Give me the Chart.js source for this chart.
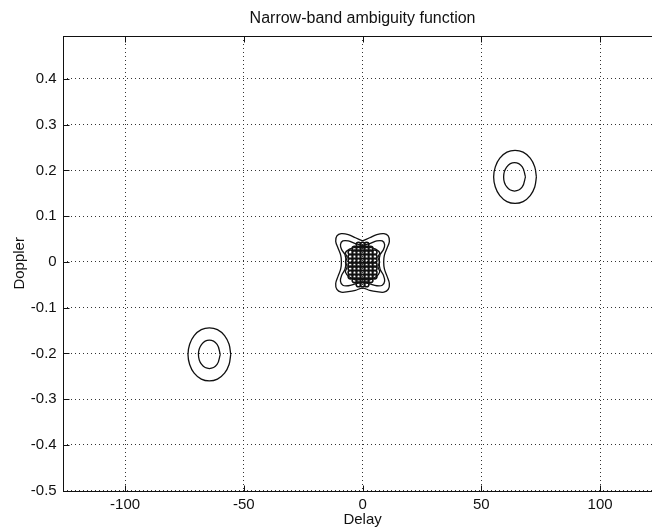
<!DOCTYPE html>
<html>
<head>
<meta charset="utf-8">
<title>Narrow-band ambiguity function</title>
<script src="https://cdn.jsdelivr.net/npm/chart.js@4/dist/chart.umd.min.js"></script>
<style>
  html, body { margin: 0; padding: 0; background: #fff; overflow: hidden; }
  #wrap { position: relative; width: 680px; height: 529px; }
</style>
</head>
<body>
<div id="wrap"><canvas id="amb"></canvas></div>
<script>
// Axis ranges and tick values
const delayRange = [-126, 126];
const dopplerRange = [-0.5, 0.494];
const delayTicks = [-100, -50, 0, 50, 100];
const dopplerTicks = [-0.5, -0.4, -0.3, -0.2, -0.1, 0, 0.1, 0.2, 0.3, 0.4];

// Contour lines of |A(delay, doppler)|, as [delay, doppler] vertices
const centerOuter = [
  [0, 0.046], [-3, 0.053], [-6, 0.060], [-9, 0.062], [-10.8, 0.057], [-11.3, 0.045],
  [-10.3, 0.030], [-9.2, 0.015], [-8.9, 0], [-9.2, -0.015], [-10.3, -0.031], [-11.3, -0.047],
  [-10.8, -0.060], [-9, -0.066], [-6, -0.065], [-3, -0.062], [0, -0.057],
  [3, -0.062], [6, -0.065], [9, -0.066], [10.8, -0.060], [11.3, -0.047], [10.3, -0.031],
  [9.2, -0.015], [8.9, 0], [9.2, 0.015], [10.3, 0.030], [11.3, 0.045], [10.8, 0.057],
  [9, 0.062], [6, 0.060], [3, 0.053], [0, 0.046]
];
const centerMiddle = [
  [0, 0.036], [-3, 0.040], [-6, 0.046], [-8.3, 0.046], [-9.3, 0.038], [-8.8, 0.027],
  [-7.4, 0.016], [-7, 0], [-7.4, -0.016], [-8.8, -0.029], [-9.3, -0.042], [-8.3, -0.051],
  [-6, -0.052], [-3, -0.048], [0, -0.044],
  [3, -0.048], [6, -0.052], [8.3, -0.051], [9.3, -0.042], [8.8, -0.029], [7.4, -0.016],
  [7, 0], [7.4, 0.016], [8.8, 0.027], [9.3, 0.038], [8.3, 0.046], [6, 0.046], [3, 0.040], [0, 0.036]
];
const centerInner = [
  [0, 0.031], [-3, 0.032], [-5.5, 0.028], [-7.2, 0.020], [-6.5, 0.010], [-7.2, 0],
  [-6.5, -0.010], [-7.2, -0.022], [-5.5, -0.033], [-3, -0.039], [0, -0.038],
  [3, -0.039], [5.5, -0.033], [7.2, -0.022], [6.5, -0.010], [7.2, 0], [6.5, 0.010],
  [7.2, 0.020], [5.5, 0.028], [3, 0.032], [0, 0.031]
];
const upperSideOuter = [
  [73.2, 0.186], [72.5, 0.208], [70.6, 0.227], [67.6, 0.240], [64.2, 0.244], [60.8, 0.240],
  [57.8, 0.227], [55.9, 0.208], [55.2, 0.186], [55.9, 0.164], [57.8, 0.145], [60.8, 0.132],
  [64.2, 0.128], [67.6, 0.132], [70.6, 0.145], [72.5, 0.164], [73.2, 0.186]
];
const upperSideInner = [
  [68.6, 0.186], [67.25, 0.208], [64, 0.217], [60.75, 0.208], [59.4, 0.186],
  [60.75, 0.164], [64, 0.155], [67.25, 0.164], [68.6, 0.186]
];
const lowerSideOuter = [
  [-55.5, -0.202], [-56.2, -0.180], [-58.1, -0.161], [-61.1, -0.148], [-64.5, -0.144],
  [-67.9, -0.148], [-70.9, -0.161], [-72.8, -0.180], [-73.5, -0.202], [-72.8, -0.224],
  [-70.9, -0.243], [-67.9, -0.256], [-64.5, -0.260], [-61.1, -0.256], [-58.1, -0.243],
  [-56.2, -0.224], [-55.5, -0.202]
];
const lowerSideInner = [
  [-59.9, -0.202], [-61.25, -0.180], [-64.5, -0.171], [-67.75, -0.180], [-69.1, -0.202],
  [-67.75, -0.224], [-64.5, -0.233], [-61.25, -0.224], [-59.9, -0.202]
];

// Tightly packed high-level contours around the main peak: one column per delay
const coreDelays  = [-5.1, -3.4, -1.7, 0, 1.7, 3.4, 5.1];
const coreTop     = [0.021, 0.029, 0.038, 0.038, 0.038, 0.029, 0.021];
const coreBottom  = [-0.032, -0.040, -0.049, -0.049, -0.049, -0.040, -0.032];
const coreDopplers = [0.038, 0.029, 0.021, 0.012, 0.003, -0.006, -0.014, -0.023, -0.032, -0.040, -0.049];

const INK = '#111';
const FONT = { family: "'Liberation Sans', Arial, sans-serif", size: 15 };

function contour(points, tension) {
  return {
    data: points.map(p => ({ x: p[0], y: p[1] })),
    showLine: true,
    borderColor: INK,
    borderWidth: 1.3,
    pointRadius: 0,
    pointHoverRadius: 0,
    fill: false,
    tension: tension
  };
}

const corePoints = [];
coreDelays.forEach((d, i) => {
  coreDopplers.forEach(v => {
    if (v <= coreTop[i] + 1e-9 && v >= coreBottom[i] - 1e-9) corePoints.push({ x: d, y: v });
  });
});

// Axes box with inward tick marks
const framePlugin = {
  id: 'frame',
  afterDraw(chart) {
    const { ctx, chartArea: a, scales: { x, y } } = chart;
    const L = Math.round(a.left) + 0.5, R = Math.round(a.right) + 0.5;
    const T = Math.round(a.top) + 0.5, B = Math.round(a.bottom) + 0.5;
    ctx.save();
    ctx.strokeStyle = INK;
    ctx.lineWidth = 1;
    ctx.setLineDash([]);
    ctx.strokeRect(L, T, R - L, B - T);
    ctx.beginPath();
    x.ticks.forEach(t => {
      const px = Math.round(x.getPixelForValue(t.value)) + 0.5;
      ctx.moveTo(px, B); ctx.lineTo(px, B - 6);
      ctx.moveTo(px, T); ctx.lineTo(px, T + 6);
    });
    y.ticks.forEach(t => {
      const py = Math.round(y.getPixelForValue(t.value)) + 0.5;
      ctx.moveTo(L, py); ctx.lineTo(L + 6, py);
      ctx.moveTo(R, py); ctx.lineTo(R - 6, py);
    });
    ctx.stroke();
    ctx.restore();
  }
};

new Chart(document.getElementById('amb'), {
  type: 'scatter',
  data: {
    datasets: [
      contour(centerOuter, 0.35),
      contour(centerMiddle, 0.35),
      contour(centerInner, 0.35),
      contour(upperSideOuter, 0.34),
      contour(upperSideInner, 0.38),
      contour(lowerSideOuter, 0.34),
      contour(lowerSideInner, 0.38),
      {
        data: corePoints,
        showLine: false,
        pointStyle: 'circle',
        pointRadius: 2.3,
        pointHoverRadius: 2.3,
        pointBorderWidth: 1.6,
        pointBorderColor: INK,
        pointBackgroundColor: 'rgba(0,0,0,0)'
      }
    ]
  },
  options: {
    responsive: true,
    maintainAspectRatio: false,
    animation: false,
    devicePixelRatio: 1,
    events: [],
    layout: { padding: { left: 0, right: 18.2, top: 0, bottom: 0 } },
    plugins: {
      legend: { display: false },
      tooltip: { enabled: false },
      title: {
        display: true,
        text: 'Narrow-band ambiguity function',
        fullSize: false,
        color: INK,
        font: { ...FONT, size: 16, weight: 'normal' },
        padding: { top: 9, bottom: 7.8 }
      }
    },
    scales: {
      x: {
        type: 'linear',
        min: delayRange[0],
        max: delayRange[1],
        afterBuildTicks(s) { s.ticks = delayTicks.map(v => ({ value: v })); },
        ticks: { padding: 5, color: INK, font: FONT, maxRotation: 0 },
        grid: { color: '#333', lineWidth: 1, drawTicks: false },
        border: { display: false, dash: [1, 3] },
        title: { display: true, text: 'Delay', color: INK, font: FONT, padding: { top: 0, bottom: 0 } },
        afterFit(s) { s.height = 38.3; }
      },
      y: {
        type: 'linear',
        min: dopplerRange[0],
        max: dopplerRange[1],
        afterBuildTicks(s) { s.ticks = dopplerTicks.map(v => ({ value: v })); },
        ticks: { padding: 6.6, color: INK, font: FONT },
        grid: { color: '#333', lineWidth: 1, drawTicks: false },
        border: { display: false, dash: [1, 3] },
        title: { display: true, text: 'Doppler', color: INK, font: FONT, padding: { top: 11, bottom: 0 } },
        afterFit(s) { s.width = 63.3; }
      }
    }
  },
  plugins: [framePlugin]
});
</script>
</body>
</html>
